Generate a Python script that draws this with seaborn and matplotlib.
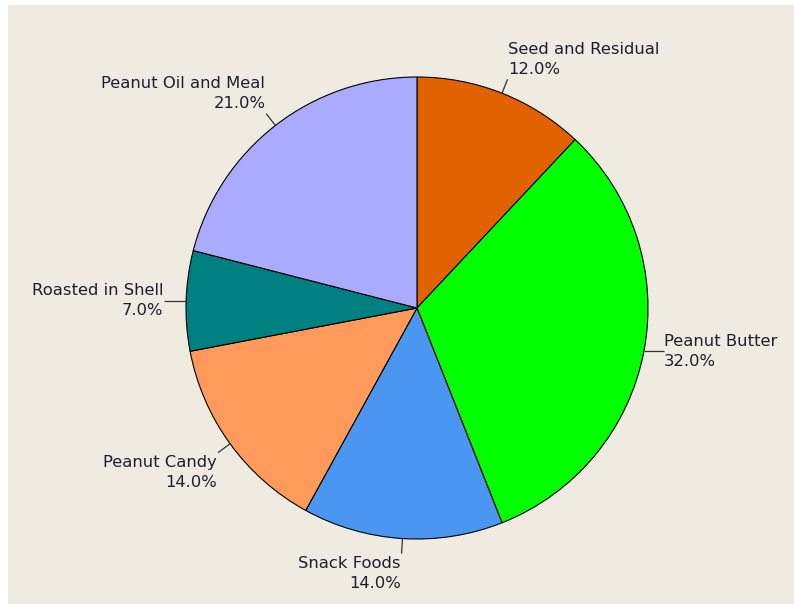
import numpy as np
import matplotlib
matplotlib.use("Agg")
import matplotlib.pyplot as plt
from matplotlib.patches import Rectangle
import seaborn as sns

# Peanut usage shares (percent)
categories = ["Seed and Residual", "Peanut Butter", "Snack Foods",
              "Peanut Candy", "Roasted in Shell", "Peanut Oil and Meal"]
shares = [12.0, 32.0, 14.0, 14.0, 7.0, 21.0]
slice_colors = ["#E36200", "#00FF00", "#4A96F0", "#FF9A5A", "#008080", "#AAAAFF"]

sns.set_theme(style="white")
plt.rcParams["font.family"] = ["DejaVu Sans"]

W, H, DPI = 794, 604, 100
fig = plt.figure(figsize=(W / DPI, H / DPI), dpi=DPI, facecolor="white")

# beige panel, leaving a thin white strip on the top and left
fig.patches.append(Rectangle((8 / W, -0.01), 1 - 8 / W + 0.01, 1 - 5 / H + 0.01,
                             transform=fig.transFigure, facecolor="#F0EBE1",
                             edgecolor="none", zorder=-1))

ax = fig.add_axes([0, 0, 1, 1])
ax.set_facecolor("none")

palette = sns.color_palette(slice_colors)
wedges, _ = ax.pie(shares, colors=palette, startangle=90, counterclock=False,
                   radius=1.0,
                   wedgeprops=dict(edgecolor="black", linewidth=0.8))

# pixel-exact mapping: pie centre at (417, 308) px, radius 231 px
cx, cy, R = 417, 308, 231
ax.set_xlim(-cx / R, (W - cx) / R)
ax.set_ylim(-(H - cy) / R, cy / R)
ax.set_aspect("auto")
ax.axis("off")

text_color = "#1E1E30"
for w, name, val in zip(wedges, categories, shares):
    mid = np.deg2rad((w.theta1 + w.theta2) / 2)
    c, s = np.cos(mid), np.sin(mid)
    x0, y0 = c, s
    if abs(s) < 0.3:
        # horizontal leader for slices on the sides
        x1 = x0 + (0.085 if c > 0 else -0.095)
        y1 = y0
        va = "center"
    else:
        L = 0.065
        x1, y1 = x0 + L * c, y0 + L * s
        va = "bottom" if s > 0 else "top"
    ha = "left" if c > 0.1 else "right"
    ax.plot([x0, x1], [y0, y1], color="#333333", lw=0.9, solid_capstyle="butt")
    dx = 0.002 if ha == "left" else -0.004
    dy = 0.0 if va == "center" else (0.01 if va == "bottom" else -0.01)
    ax.text(x1 + dx, y1 + dy, f"{name}\n{val:.1f}%", ha=ha, va=va,
            fontsize=11.8, color=text_color, linespacing=1.45)

fig.savefig("out.png", dpi=DPI, facecolor=fig.get_facecolor())
